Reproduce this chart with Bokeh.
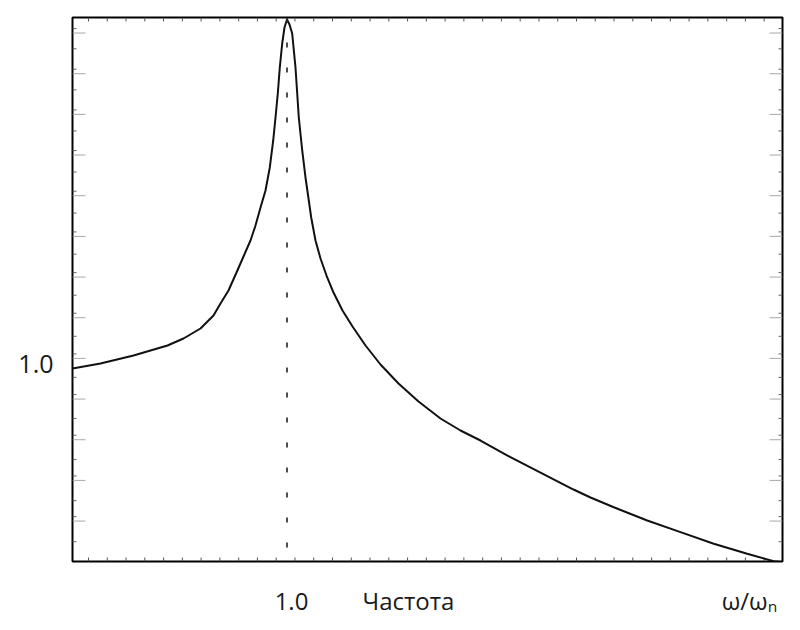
import math
from bokeh.plotting import figure
from bokeh.models import Range1d, FixedTicker, LinearAxis, Span
from bokeh.embed import file_html
from bokeh.resources import INLINE

# frequency ratio (omega / omega_n) and amplitude
freq = [0.0, 0.1305, 0.2844, 0.4429, 0.5175, 0.5967, 0.6573, 0.6900, 0.7273,
        0.7646, 0.7972, 0.8298, 0.8531, 0.8765, 0.8998, 0.9198, 0.9357, 0.9464,
        0.9571, 0.9664, 0.9776, 0.9883, 1.0,
        1.0117, 1.0242, 1.0396, 1.0550, 1.0709, 1.0862, 1.1016, 1.1128, 1.1329,
        1.1562, 1.1841, 1.2168, 1.2587, 1.3054, 1.3660, 1.4359, 1.5198, 1.6131,
        1.7156, 1.8089, 1.9021, 2.0280, 2.1818, 2.3357, 2.4149, 2.5235, 2.6793,
        2.8345, 2.9897, 3.1454, 3.2695, 3.305]
amp = [0.990, 1.0025, 1.0221, 1.0467, 1.0639, 1.0885, 1.1205, 1.1500, 1.1820,
       1.2262, 1.2656, 1.3049, 1.3418, 1.3860, 1.4278, 1.4844, 1.5508, 1.6073,
       1.6663, 1.7303, 1.7893, 1.8286, 1.8483,
       1.836, 1.8139, 1.7303, 1.6073, 1.5262, 1.4598, 1.4032, 1.3614, 1.3049,
       1.2606, 1.2188, 1.1770, 1.1328, 1.0934, 1.0467, 1.0, 0.9533, 0.9090,
       0.8672, 0.8377, 0.8131, 0.7762, 0.7344, 0.6926, 0.6730, 0.6491, 0.6164,
       0.5877, 0.5591, 0.5345, 0.5163, 0.5144]

resonance = 1.0
x_start, x_end = 0.0, 3.31
y_start, y_end = 0.5156, 1.8532

# texts
y_tick_labels = {1.0: "1.0"}
x_label_pos = [1.021, 1.5664, 3.156]
x_label_text = ["1.0", "Частота", "ω/ωₙ"]

# tick positions
x_ticks = [round(0.0746 + 0.0875 * k, 4) for k in range(37)]
y_major = [round(1.815 - 0.1 * k, 3) for k in range(13)]
y_minor = [round(1.7763 - 0.101 * k, 4) for k in range(13)] + \
          [round(1.826 - 0.1 * k, 3) for k in range(13)]

p = figure(width=800, height=630,
           x_range=Range1d(x_start, x_end), y_range=Range1d(y_start, y_end),
           output_backend="svg", toolbar_location=None,
           min_border_left=72, min_border_right=18,
           min_border_top=17, min_border_bottom=69,
           x_axis_type=None, y_axis_type=None)
p.grid.visible = False
p.outline_line_color = "black"
p.outline_line_width = 2
p.background_fill_color = "white"
p.border_fill_color = "white"

font = "Open Sans"
col = "#1a1a1a"

# label-only axes
yax = LinearAxis(ticker=FixedTicker(ticks=list(y_tick_labels.keys()), minor_ticks=[]))
yax.major_label_overrides = y_tick_labels
yax.major_tick_in = 0
yax.major_tick_out = 0
yax.minor_tick_line_color = None
yax.axis_line_color = None
yax.major_label_standoff = 19
yax.major_label_text_font = font
yax.major_label_text_font_size = "25px"
yax.major_label_text_color = col
p.add_layout(yax, "left")

xax = LinearAxis(ticker=FixedTicker(ticks=x_label_pos, minor_ticks=[]))
xax.major_label_overrides = dict(zip(x_label_pos, x_label_text))
xax.major_tick_in = 0
xax.major_tick_out = 0
xax.minor_tick_line_color = None
xax.axis_line_color = None
xax.major_label_standoff = 22
xax.major_label_text_font = font
xax.major_label_text_font_size = "24px"
xax.major_label_text_color = col
p.add_layout(xax, "below")

# tick marks drawn inward from the frame
n_x = len(x_ticks)
p.ray(x=x_ticks, y=[y_start] * n_x, length=4, angle=math.pi / 2,
      length_units="screen", line_color="#555555", line_width=1)
p.ray(x=x_ticks, y=[y_end] * n_x, length=4, angle=-math.pi / 2,
      length_units="screen", line_color="#555555", line_width=1)
n_ym = len(y_major)
p.ray(x=[x_start] * n_ym, y=y_major, length=13, angle=0,
      length_units="screen", line_color="#a8a8a8", line_width=1)
p.ray(x=[x_end] * n_ym, y=y_major, length=13, angle=math.pi,
      length_units="screen", line_color="#a8a8a8", line_width=1)
n_yn = len(y_minor)
p.ray(x=[x_start] * n_yn, y=y_minor, length=4, angle=0,
      length_units="screen", line_color="#666666", line_width=1)
p.ray(x=[x_end] * n_yn, y=y_minor, length=4, angle=math.pi,
      length_units="screen", line_color="#666666", line_width=1)

p.add_layout(Span(location=resonance, dimension="height", line_color="#222222",
                  line_width=1.6, line_dash="5 20"))

p.line(freq, amp, line_color="#111111", line_width=2)

open("out.html", "w").write(file_html(p, INLINE))
